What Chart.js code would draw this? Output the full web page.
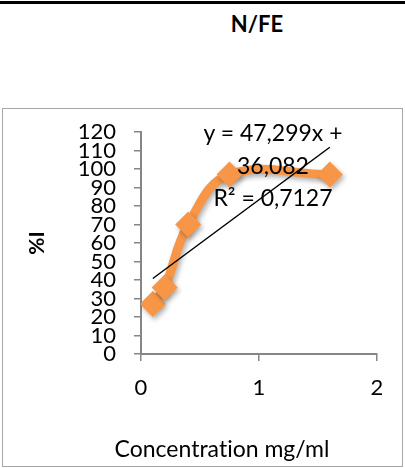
<!DOCTYPE html>
<html>
<head>
<meta charset="utf-8">
<script src="https://cdn.jsdelivr.net/npm/chart.js@4.4.1/dist/chart.umd.min.js"></script>
<style>
  html, body { margin: 0; padding: 0; background: #fff; }
  body { width: 405px; height: 468px; position: relative; overflow: hidden; font-family: Lato, "Open Sans", sans-serif; color: #000; font-variant-ligatures: none; }
  #topRule { position: absolute; left: 0; top: 1px; width: 405px; height: 3px; background: #000; }
  #pageTitle { position: absolute; left: 197px; width: 120px; top: 10px; text-align: center; font-weight: bold; font-size: 22px; line-height: 28px; }
  #frame { position: absolute; left: 2px; top: 108px; width: 399px; height: 357px; border: 1.5px solid #a6a6a6; }
  #chartWrap { position: absolute; left: 0; top: 0; width: 405px; height: 468px; }
  #trendLabel { position: absolute; left: 173px; width: 200px; top: 116px; text-align: center; font-size: 23px; line-height: 32.5px; white-space: nowrap; }
  #xTitle { position: absolute; left: 72px; width: 300px; top: 434px; text-align: center; font-size: 23px; line-height: 28px; white-space: nowrap; }
</style>
</head>
<body>
<div id="topRule"></div>
<div id="pageTitle">N/FE</div>
<div id="frame"></div>
<div id="chartWrap"><canvas id="inhibChart" width="405" height="468"></canvas></div>
<div id="trendLabel">y = 47,299x +<br>36,082<br>R² = 0,7127</div>
<div id="xTitle">Concentration mg/ml</div>

<script>
  // Concentration series and % inhibition
  const concentration = [0.1, 0.2, 0.4, 0.75, 1.6];
  const inhibition = [27, 36, 70, 97, 97];

  // Linear trendline coefficients
  const trendSlope = 47.299;
  const trendIntercept = 36.082;

  // Axis ranges
  const xTickValues = [0, 1, 2];
  const yTickValues = [0, 10, 20, 30, 40, 50, 60, 70, 80, 90, 100, 110, 120];

  const axisGray = '#868686';
  const orange = '#F79646';
  const tickFont = { family: 'Lato', size: 22 };

  const seriesPoints = concentration.map((x, i) => ({ x: x, y: inhibition[i] }));
  const trendX = [concentration[0], concentration[concentration.length - 1]];
  const trendPoints = trendX.map(x => ({ x: x, y: trendSlope * x + trendIntercept }));

  // soft drop shadow under the orange series
  const seriesShadow = {
    id: 'seriesShadow',
    beforeDatasetDraw(chart, args) {
      if (args.index !== 1) return;
      const ctx = chart.ctx;
      ctx.save();
      ctx.shadowColor = 'rgba(0,0,0,0.3)';
      ctx.shadowBlur = 5;
      ctx.shadowOffsetX = 2;
      ctx.shadowOffsetY = 3;
    },
    afterDatasetDraw(chart, args) {
      if (args.index !== 1) return;
      chart.ctx.restore();
    }
  };

  const ctx = document.getElementById('inhibChart').getContext('2d');
  new Chart(ctx, {
    type: 'scatter',
    data: {
      datasets: [
        {
          label: 'Linéaire',
          data: trendPoints,
          showLine: true,
          borderColor: '#000',
          borderWidth: 1.5,
          pointRadius: 0,
          tension: 0
        },
        {
          label: '%I',
          data: seriesPoints,
          showLine: true,
          borderColor: orange,
          backgroundColor: orange,
          borderWidth: 9,
          tension: 0.4,
          pointStyle: 'rectRot',
          pointRadius: 13,
          pointBorderWidth: 0,
          pointBackgroundColor: orange
        }
      ]
    },
    plugins: [seriesShadow],
    options: {
      responsive: false,
      animation: false,
      layout: { padding: { left: 0, right: 28, top: 132, bottom: 14 } },
      plugins: {
        legend: { display: false },
        tooltip: { enabled: false }
      },
      scales: {
        x: {
          type: 'linear',
          min: xTickValues[0],
          max: xTickValues[xTickValues.length - 1],
          afterBuildTicks: scale => { scale.ticks = xTickValues.map(v => ({ value: v })); },
          afterFit: scale => { scale.height = 100; },
          ticks: { color: '#000', font: tickFont, padding: 14 },
          grid: { drawOnChartArea: false, tickLength: 7, color: axisGray, lineWidth: 1.5 },
          border: { color: axisGray, width: 2 }
        },
        y: {
          min: yTickValues[0],
          max: yTickValues[yTickValues.length - 1],
          afterBuildTicks: scale => { scale.ticks = yTickValues.map(v => ({ value: v })); },
          afterFit: scale => { scale.width = 141; },
          ticks: { color: '#000', autoSkip: false, font: tickFont, padding: 18 },
          grid: { drawOnChartArea: false, tickLength: 7, color: axisGray, lineWidth: 1.5 },
          border: { color: axisGray, width: 2 },
          title: {
            display: true,
            text: '%I',
            color: '#000',
            font: { family: 'Lato', size: 21, weight: 'bold' },
            padding: { top: 25, bottom: 0 }
          }
        }
      }
    }
  });
</script>
</body>
</html>
